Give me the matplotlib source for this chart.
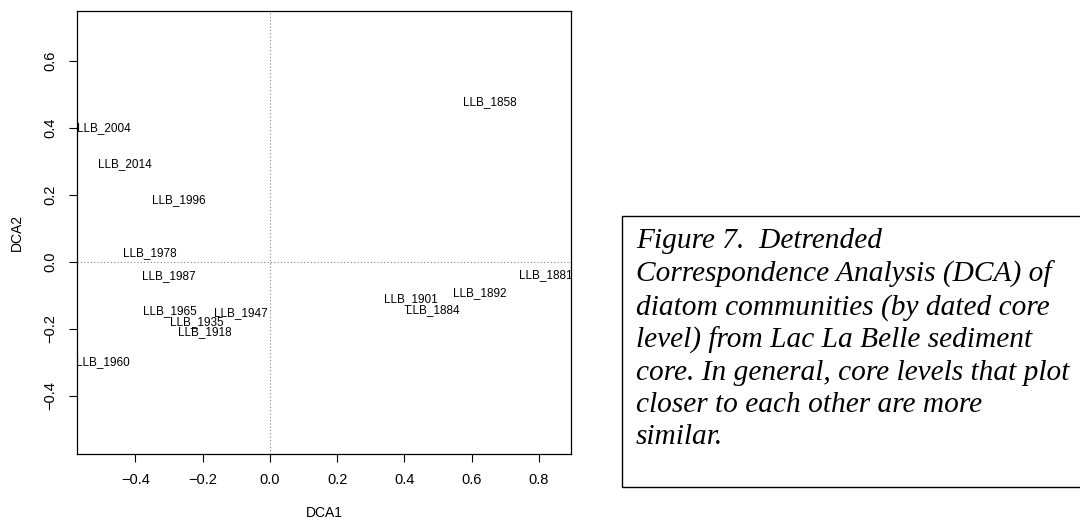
import matplotlib
matplotlib.use("Agg")
import matplotlib.pyplot as plt
from matplotlib.patches import Rectangle

# sample scores
labels = ["LLB_2004", "LLB_2014", "LLB_1996", "LLB_1978", "LLB_1987",
          "LLB_1965", "LLB_1935", "LLB_1918", "LLB_1947", "LLB_1960",
          "LLB_1858", "LLB_1881", "LLB_1892", "LLB_1901", "LLB_1884"]
dca1 = [-0.493, -0.432, -0.271, -0.357, -0.300,
        -0.298, -0.217, -0.193, -0.086, -0.496,
        0.655, 0.820, 0.625, 0.421, 0.485]
dca2 = [0.400, 0.293, 0.185, 0.027, -0.042,
        -0.146, -0.179, -0.209, -0.152, -0.300,
        0.478, -0.039, -0.093, -0.110, -0.143]

xticks = [-0.4, -0.2, 0.0, 0.2, 0.4, 0.6, 0.8]
yticks = [-0.4, -0.2, 0.0, 0.2, 0.4, 0.6]

caption = ("Figure 7.  Detrended\n"
           "Correspondence Analysis (DCA) of\n"
           "diatom communities (by dated core\n"
           "level) from Lac La Belle sediment\n"
           "core. In general, core levels that plot\n"
           "closer to each other are more\n"
           "similar.")

plt.rcParams['font.family'] = ['Liberation Sans', 'DejaVu Sans']


def fmt(v):
    s = "%.1f" % abs(v)
    return "\u2212" + s if v < 0 else s


W, H = 1080, 521
fig = plt.figure(figsize=(W / 100, H / 100), dpi=100)
ax = fig.add_axes([77 / W, 1 - 454 / H, 494 / W, 443 / H])

ax.set_xlim(-0.574, 0.896)
ax.set_ylim(-0.573, 0.749)

ax.axhline(0, color="gray", linestyle=(0, (1, 2)), linewidth=0.8)
ax.axvline(0, color="gray", linestyle=(0, (1, 2)), linewidth=0.8)

for lab, x, y in zip(labels, dca1, dca2):
    ax.text(x, y, lab, ha="center", va="center", fontsize=8.5, clip_on=False)

ax.set_xticks(xticks)
ax.set_xticklabels([fmt(v) for v in xticks])
ax.set_yticks(yticks)
ax.set_yticklabels([fmt(v) for v in yticks], rotation=90, va="center")
ax.tick_params(direction="out", length=6, width=0.8, labelsize=10.5, pad=8)
for s in ax.spines.values():
    s.set_linewidth(0.9)

ax.set_xlabel("DCA1", fontsize=10, labelpad=13.5)
ax.set_ylabel("DCA2", fontsize=10, labelpad=14)

# caption box
fig.patches.append(Rectangle((622 / W, 1 - 487 / H), 470 / W, 271 / H,
                             transform=fig.transFigure, fill=False,
                             edgecolor="black", linewidth=1.0))
fig.text(636 / W, 1 - 228 / H, caption, ha="left", va="top",
         family=["Liberation Serif", "DejaVu Serif"], style="italic",
         fontsize=21.2, linespacing=1.3)

fig.savefig("out.png", dpi=100)
